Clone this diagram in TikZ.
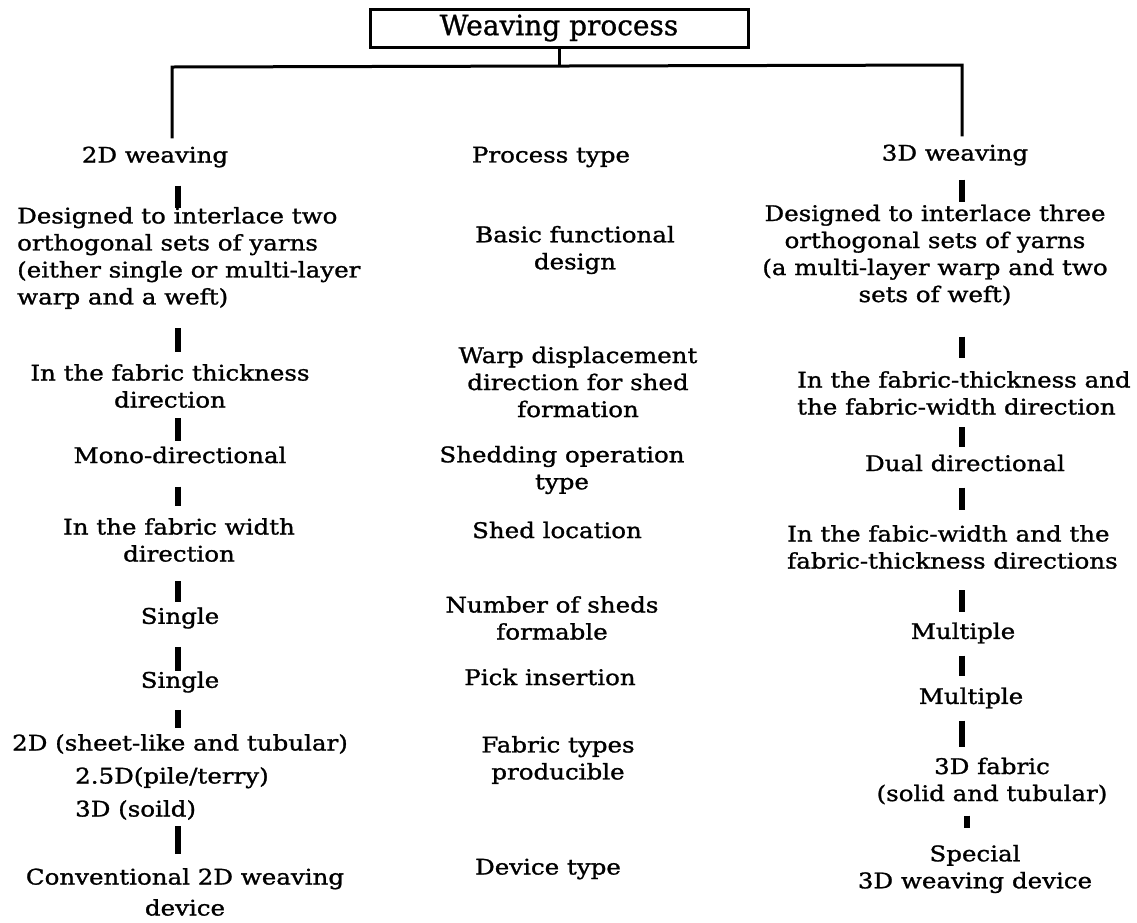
\documentclass[tikz,border=0pt]{standalone}
\usepackage{fontspec}
\setmainfont{DejaVu Serif}[FakeStretch=1.14, FakeBold=1.2]
\newfontfamily\titlefont{DejaVu Serif}[FakeBold=1.0]
\usetikzlibrary{calc}
\begin{document}
\begin{tikzpicture}[x=1pt,y=-1pt,
  txt/.style={font=\fontsize{21.5}{27}\selectfont, align=center, inner sep=0pt},
  txtl/.style={txt, align=left},
  bar/.style={line width=5.5pt},
  tree/.style={line width=3pt}]
\useasboundingbox (0,0) rectangle (1137,922);
% columns
\coordinate (bl) at (178,0);
\coordinate (br) at (962,0);
\coordinate (br2) at (967,0);
% title
\node[draw, line width=3pt, minimum width=378pt, minimum height=38pt, inner sep=0pt,
      font=\titlefont\fontsize{28}{30}\selectfont] (top) at (559,28) {Weaving process};
% left column
\node[txt] (L0) at (155,157) {2D weaving};
\node[txtl, anchor=west] (L1) at (17,258) {Designed to interlace two\\orthogonal sets of yarns\\(either single or multi-layer\\warp and a weft)};
\node[txt] (L2) at (170,386) {In the fabric thickness\\direction};
\node[txt] (L3) at (180,455) {Mono-directional};
\node[txt] (L4) at (179,540) {In the fabric width\\direction};
\node[txt] (L5) at (180,618) {Single};
\node[txt] (L6) at (180,682) {Single};
\node[txtl, anchor=west, font=\fontsize{21.5}{33}\selectfont] (L7) at (12,777) {2D (sheet-like and tubular)\\\hspace*{63pt}2.5D(pile/terry)\\\hspace*{63pt}3D (soild)};
\node[txt, font=\fontsize{21.5}{31}\selectfont] (L8) at (185,892) {Conventional 2D weaving\\device};
% middle column
\node[txt] (M0) at (551,157) {Process type};
\node[txt] (M1) at (575,250) {Basic functional\\design};
\node[txt] (M2) at (578,382) {Warp displacement\\direction for shed\\formation};
\node[txt] (M3) at (562,470) {Shedding operation\\type};
\node[txt] (M4) at (557,530) {Shed location};
\node[txt] (M5) at (552,618) {Number of sheds\\formable};
\node[txt] (M6) at (550,677) {Pick insertion};
\node[txt] (M7) at (558,760) {Fabric types\\producible};
\node[txt] (M8) at (548,869) {Device type};
% right column
\node[txt] (R0) at (955,155) {3D weaving};
\node[txt] (R1) at (935,255) {Designed to interlace three\\orthogonal sets of yarns\\(a multi-layer warp and two\\sets of weft)};
\node[txtl, anchor=west] (R2) at (797,393) {In the fabric-thickness and\\the fabric-width direction};
\node[txt] (R3) at (965,463) {Dual directional};
\node[txtl, anchor=west] (R4) at (787,547) {In the fabic-width and the\\fabric-thickness directions};
\node[txt] (R5) at (963,633) {Multiple};
\node[txt] (R6) at (971,698) {Multiple};
\node[txt] (R7) at (992,781) {3D fabric\\(solid and tubular)};
\node[txt] (R8) at (975,869) {Special\\3D weaving device};
% tree
\coordinate (hl) at (172,67);
\coordinate (hr) at (962,65);
\draw[tree] (top.south) -- (top.south |- hl);
\draw[tree] ($(L0.north -| hl)+(0,-8)$) -- (hl) -- (hr) -- ($(R0.north -| hr)+(0,-8)$);
% bars
\foreach \a/\b/\p/\q in {L0/L1/18/1, L1/L2/19/-12, L2/L3/10/-5, L3/L4/23/-12,
    L4/L5/19/-5, L5/L6/18/0, L6/L7/17/-6, L7/L8/6/-14}
  \draw[bar] ($(\a.south -| bl)+(0,\p)$) -- ($(\b.north -| bl)+(0,\q)$);
\foreach \a/\b/\p/\q in {R0/R1/14/-2, R1/R2/31/-13, R2/R3/12/-7, R3/R4/16/-15,
    R4/R5/21/-10, R5/R6/12/-11, R6/R7/12/-10}
  \draw[bar] ($(\a.south -| br)+(0,\p)$) -- ($(\b.north -| br)+(0,\q)$);
\draw[bar] ($(R7.south -| br2)+(0,11)$) -- ($(R8.north -| br2)+(0,-17)$);
\end{tikzpicture}
\end{document}
